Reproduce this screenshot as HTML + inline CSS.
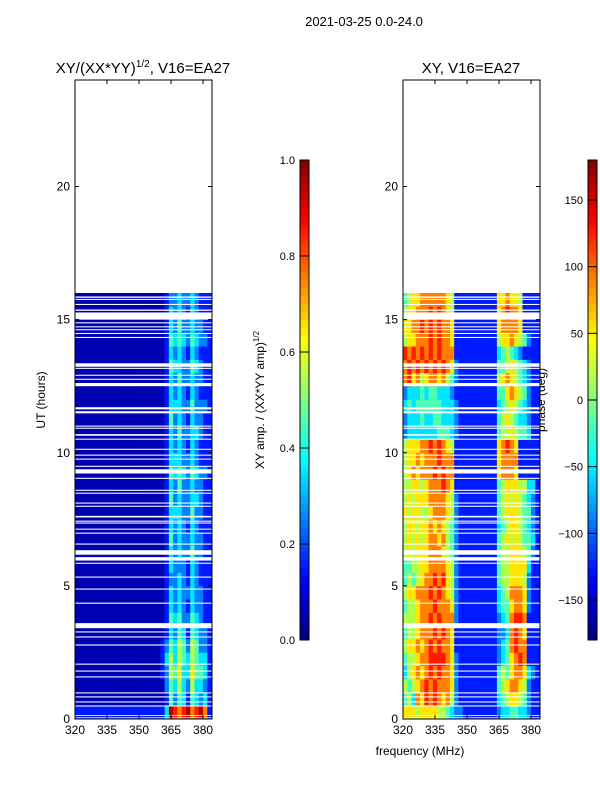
<!DOCTYPE html>
<html><head><meta charset="utf-8"><style>
html,body{margin:0;padding:0;background:#fff;}
svg{display:block;font-family:"Liberation Sans","DejaVu Sans",sans-serif;}
</style></head><body>
<svg id="fig" width="600" height="800" viewBox="0 0 600 800" xmlns="http://www.w3.org/2000/svg">
<rect x="0" y="0" width="600" height="800" fill="#fff"/>
<text x="364" y="26" font-size="13" text-anchor="middle">2021-03-25 0.0-24.0</text>
<text x="143" y="73" font-size="15" text-anchor="middle">XY/(XX*YY)<tspan font-size="10" dy="-6">1/2</tspan><tspan dy="6">, V16=EA27</tspan></text>
<text x="471" y="73" font-size="15" text-anchor="middle">XY, V16=EA27</text>
<text x="45" y="400" font-size="12" text-anchor="middle" transform="rotate(-90 45 400)">UT (hours)</text>
<text x="420" y="755" font-size="12" text-anchor="middle">frequency (MHz)</text>
<text x="264" y="400" font-size="12" text-anchor="middle" transform="rotate(-90 264 400)">XY amp. / (XX*YY amp)<tspan font-size="8" dy="-5">1/2</tspan></text>
<text x="545" y="400" font-size="12" text-anchor="middle" transform="rotate(-90 545 400)">phase (deg)</text>
<g id="layers"></g>
</svg>
<script>
const freqStart = 320, freqStep = 2, timeStep = 0.5;
const xTicks = [320, 335, 350, 365, 380];
const yTicks = [0, 5, 10, 15, 20];
const ampTicks = [0.0, 0.2, 0.4, 0.6, 0.8, 1.0];
const phaseTicks = [-150, -100, -50, 0, 50, 100, 150];
// amplitude rows (0h upward), digit d -> d/10+0.05
const ampRows = [
"11111111111111111111139878978971",
"00000000000000000000014243143231",
"00000000000000000000024353253321",
"00000000000000000000125463364431",
"00000000000000000000135354354331",
"00000000000000000000124354254221",
"00000000000000000000013243143221",
"00000000000000000000014342243211",
"00000000000000000000013232132211",
"00000000000000000000013232232211",
"00000000000000000000012232132111",
"00000000000000000000013222132111",
"00000000000000000000013232242211",
"00000000000000000000014232232211",
"00000000000000000000013232132111",
"00000000000000000000013332242211",
"00000000000000000000014232233211",
"00000000000000000000013242232211",
"00000000000000000000014343243221",
"00000000000000000000013332232111",
"00000000000000000000013232132111",
"00000000000000000000013242233211",
"00000000000000000000014232132211",
"00000000000000000000013332242221",
"00000000000000000000013232132111",
"00000000000000000000013242232211",
"00000000000000000000014332243211",
"00000000000000000000013232132111",
"00000000000000000000014343243221",
"00000000000000000000013242232211",
"00000000000000000000013232132111",
"00000000000000000000012232232111"];
// phase rows (0h upward), digit d -> -180+(d+0.5)*36
const phaseRows = [
"66656666554322111111112334433211",
"45376878767521111111113456654211",
"54567878777621111111114567765211",
"35676787877621111111114546776321",
"45567788887621111111112346787111",
"56676787877611111111112347877111",
"45567778787611111111112237876111",
"55567787877721111111112347887111",
"45567778777621111111113446776211",
"56677787876521111111113457776211",
"45456778786521111111114556665211",
"44556677776521111111114556666311",
"56566677765421111111114556665421",
"56565677675421111111114565654431",
"56656676765421111111113456654321",
"65665567776521111111114566654421",
"56566677776521111111114565654321",
"55665677787611111111114566655331",
"56767778787711111111116777611111",
"56676777877711111111116777711111",
"56667787876511111111116787611111",
"23333333444321111111114556544311",
"23334334433321111111114565433211",
"34344444433321111111113456543211",
"23334344333211111111114467654211",
"78675677675421111111115676543211",
"78787878787621111111114456543211",
"87878787877711111111113454321111",
"56677787877611111111115667654211",
"66778787877611111111116777761111",
"56677787876511111111116787761111",
"45667777776511111111116676651111"];
// flagged (blank) time intervals in hours
const gaps = [[15.82,15.87],[15.74,15.78],[15.55,15.59],[15.33,15.38],[15.0,15.27],[14.86,14.9],[14.71,14.75],[14.6,14.64],[14.46,14.5],[14.31,14.35],[13.23,13.36],[13.15,13.19],[12.89,12.93],[12.74,12.78],[12.5,12.62],[11.63,11.71],[11.48,11.56],[10.98,11.02],[10.9,10.94],[10.64,10.7],[10.49,10.53],[10.11,10.15],[9.89,9.93],[9.74,9.78],[9.47,9.51],[9.22,9.38],[9.02,9.06],[8.57,8.61],[8.46,8.5],[8.09,8.13],[7.97,8.01],[7.57,7.63],[7.41,7.45],[7.34,7.38],[7.11,7.15],[6.96,7.0],[6.55,6.59],[6.17,6.34],[5.95,6.08],[5.83,5.87],[5.31,5.35],[4.86,4.9],[4.33,4.37],[3.41,3.6],[3.25,3.29],[3.06,3.1],[2.76,2.8],[2.04,2.08],[1.78,1.82],[1.56,1.6],[0.96,1.0],[0.81,0.85],[0.62,0.66],[0.47,0.51],[0.12,0.15],[0.03,0.06]];

const NS = "http://www.w3.org/2000/svg";
const layers = document.getElementById('layers');
function mk(tag, attrs, parent){const e=document.createElementNS(NS,tag);for(const k in attrs)e.setAttribute(k,attrs[k]);(parent||layers).appendChild(e);return e;}
function jet(v){const c=t=>Math.round(255*Math.max(0,Math.min(1,t)));return `rgb(${c(1.5-Math.abs(4*v-3))},${c(1.5-Math.abs(4*v-2))},${c(1.5-Math.abs(4*v-1))})`;}
const Y0=719, Y1=80, TMAX=24;
const yScale = t => Y0 - (t/TMAX)*(Y0-Y1);
const FMIN=320, FMAX=384.2;

function panel(name, x0, x1, rows, toNorm){
  const xs = f => x0 + (f-FMIN)/(FMAX-FMIN)*(x1-x0);
  const g = mk('g',{});
  
  
  rows.forEach((row, ri) => {
    for (let ci=0; ci<row.length; ci++){
      const f = freqStart + ci*freqStep;
      const t = ri*timeStep;
      const xa = xs(f), xb = xs(f+freqStep), ya = yScale(t+timeStep), yb = yScale(t);
      const r = mk('rect',{x:xa.toFixed(2),y:ya.toFixed(2),width:(xb-xa+0.3).toFixed(2),height:(yb-ya+0.3).toFixed(2),fill:jet(toNorm(+row[ci]))},g);
      
      
    }
  });
  gaps.forEach(gp => {
    const r = mk('rect',{x:x0,y:yScale(gp[1]).toFixed(2),width:x1-x0,height:(yScale(gp[0])-yScale(gp[1])).toFixed(2),fill:'#fff'},g);
    
    
  });
  const fr = mk('rect',{x:x0,y:Y1,width:x1-x0,height:Y0-Y1,fill:'none',stroke:'#000','stroke-width':1});
  
  
  xTicks.forEach(v => {
    const x = xs(v);
    mk('line',{x1:x,x2:x,y1:Y0,y2:Y0-4,stroke:'#000'});
    mk('line',{x1:x,x2:x,y1:Y1,y2:Y1+4,stroke:'#000'});
    const tx = mk('text',{x:x,y:Y0+15,'font-size':12,'text-anchor':'middle'});
    tx.textContent = v;
    
    
  });
  yTicks.forEach(v => {
    const y = yScale(v);
    mk('line',{x1:x0,x2:x0+4,y1:y,y2:y,stroke:'#000'});
    mk('line',{x1:x1,x2:x1-4,y1:y,y2:y,stroke:'#000'});
    const tx = mk('text',{x:x0-5,y:y+4,'font-size':12,'text-anchor':'end'});
    tx.textContent = v;
    
    
  });
}
panel('amplitude', 75, 212, ampRows, d => d/10+0.05);
panel('phase', 403, 540, phaseRows, d => (d+0.5)/10);

function colorbar(name, x, vmin, vmax, ticks, fmt){
  const top=160, bot=640, w=9, n=120;
  const g = mk('g',{});
  
  
  for(let i=0;i<n;i++){
    const ya = top + (bot-top)*i/n;
    mk('rect',{x:x,y:ya.toFixed(2),width:w,height:((bot-top)/n+0.4).toFixed(2),fill:jet(1-(i+0.5)/n)},g);
  }
  mk('rect',{x:x,y:top,width:w,height:bot-top,fill:'none',stroke:'#000','stroke-width':1},g);
  ticks.forEach(v => {
    const y = bot - (v-vmin)/(vmax-vmin)*(bot-top);
    mk('line',{x1:x,x2:x+w,y1:y,y2:y,stroke:'#000','stroke-width':1},g);
    const tx = mk('text',{x:x-5,y:y+4,'font-size':11,'text-anchor':'end'},g);
    tx.textContent = fmt(v);
    
    
  });
}
colorbar('amplitude-colorbar', 300, 0, 1, ampTicks, v => v.toFixed(1));
colorbar('phase-colorbar', 588, -180, 180, phaseTicks, v => v<0 ? '\u2212'+(-v) : ''+v);
</script>
</body></html>
